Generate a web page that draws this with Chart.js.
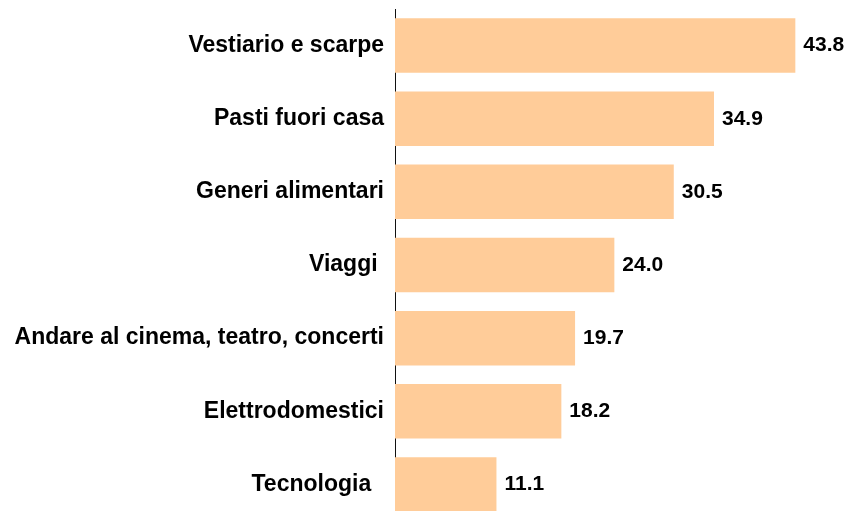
<!DOCTYPE html>
<html>
<head>
<meta charset="utf-8">
<script src="https://cdn.jsdelivr.net/npm/chart.js@4/dist/chart.umd.min.js"></script>
<style>
  html, body { margin: 0; padding: 0; background: #fff; overflow: hidden; }
  #wrap { position: relative; width: 852px; height: 530px; }
</style>
</head>
<body>
<div id="wrap"><canvas id="c"></canvas></div>
<script>
const categories = [
  "Vestiario e scarpe",
  "Pasti fuori casa",
  "Generi alimentari",
  "Viaggi ",
  "Andare al cinema, teatro, concerti",
  "Elettrodomestici",
  "Tecnologia  "
];
const values = [43.8, 34.9, 30.5, 24.0, 19.7, 18.2, 11.1];

const valueLabels = {
  id: 'valueLabels',
  afterDatasetsDraw(chart) {
    const ctx = chart.ctx;
    const meta = chart.getDatasetMeta(0);
    ctx.save();
    ctx.font = 'bold 21px "Liberation Sans", Arial, sans-serif';
    ctx.fillStyle = '#000';
    ctx.textAlign = 'left';
    ctx.textBaseline = 'middle';
    meta.data.forEach((bar, i) => {
      ctx.fillText(values[i].toFixed(1), bar.x + 8, bar.y);
    });
    ctx.restore();
  }
};

new Chart(document.getElementById('c'), {
  type: 'bar',
  data: {
    labels: categories,
    datasets: [{
      data: values,
      backgroundColor: '#FFCC99',
      borderWidth: 0,
      barPercentage: 0.745,
      categoryPercentage: 1.0
    }]
  },
  plugins: [valueLabels],
  options: {
    indexAxis: 'y',
    responsive: true,
    maintainAspectRatio: false,
    animation: false,
    layout: { padding: { top: 9, bottom: 9, left: 0, right: 0 } },
    plugins: { legend: { display: false }, tooltip: { enabled: false } },
    scales: {
      x: {
        display: false,
        min: 0,
        max: 50
      },
      y: {
        grid: { display: false, drawTicks: false },
        border: { display: true, color: '#111', width: 1 },
        ticks: {
          padding: 11,
          color: '#000',
          font: { family: '"Liberation Sans", Arial, sans-serif', size: 23, weight: 'bold' }
        },
        afterFit(scale) {
          scale.width = 395;
          scale.paddingTop = 0;
          scale.paddingBottom = 0;
        }
      }
    }
  }
});
</script>
</body>
</html>
